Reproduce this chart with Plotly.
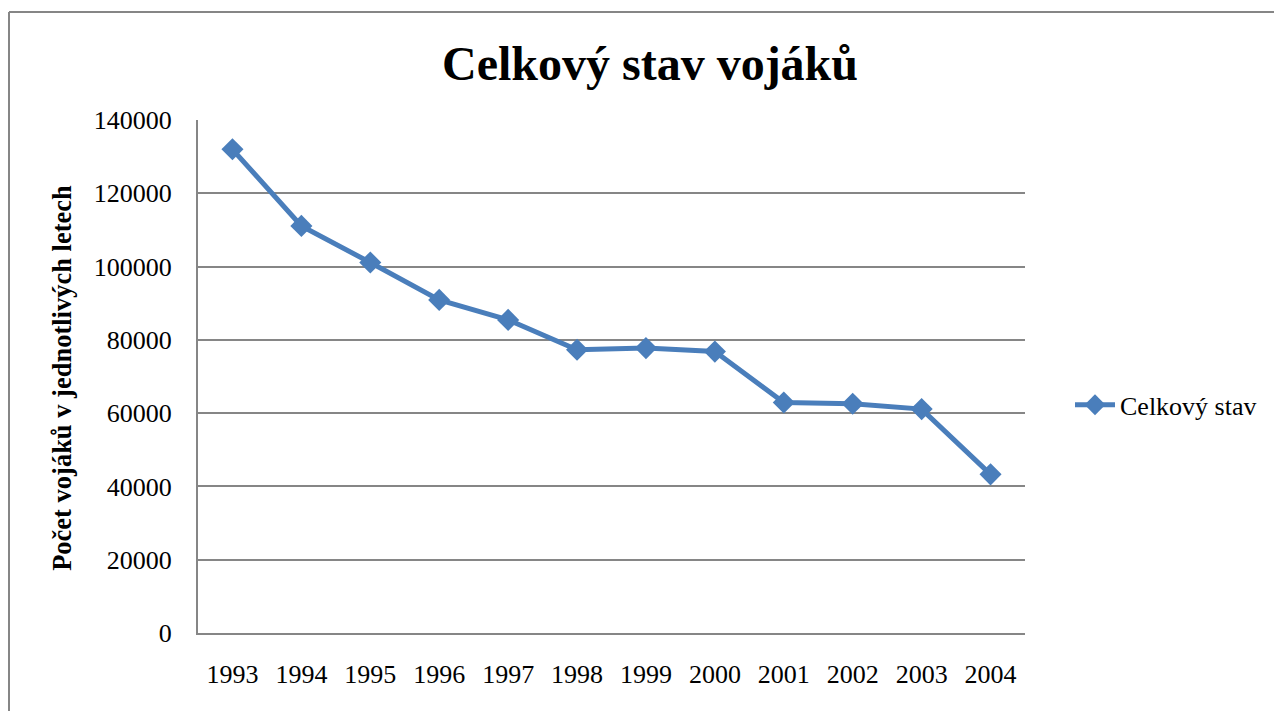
import plotly.graph_objects as go

years = ["1993", "1994", "1995", "1996", "1997", "1998", "1999", "2000", "2001", "2002", "2003", "2004"]
soldiers = [132000, 111100, 101100, 90900, 85450, 77300, 77750, 76800, 62900, 62550, 61100, 43300]
series_name = "Celkový stav"
title_text = "Celkový stav vojáků"
y_title = "Počet vojáků v jednotlivých letech"
y_ticks = [0, 20000, 40000, 60000, 80000, 100000, 120000, 140000]

# page has an 8px body margin; figure is placed at page (8, 8)
OFF = 8
W, H = 1282 - OFF, 711 - OFF
L, R, T, B = 198, 1025, 120, 633.3  # plot area in page pixels


def px_x(p):
    return (p - L) / (R - L)


def px_y(p):
    return (B - p) / (B - T)


fig = go.Figure()
fig.add_trace(go.Scatter(
    x=years, y=soldiers, name=series_name, mode="lines+markers",
    line=dict(color="#4A7EBB", width=5),
    marker=dict(symbol="diamond", size=17, color="#4A7EBB"),
))

fig.update_layout(
    width=W, height=H,
    margin=dict(l=L - OFF, r=W - (R - OFF), t=T - OFF, b=H - (B - OFF), pad=0),
    paper_bgcolor="white", plot_bgcolor="white",
    font=dict(family="Liberation Serif, Times New Roman, serif", size=26, color="black"),
    title=dict(text="<b>" + title_text + "</b>", font=dict(size=48, color="black"),
               x=(650 - OFF) / W, xref="container", xanchor="center",
               y=1 - (63 - OFF) / H, yanchor="middle"),
    showlegend=True,
    legend=dict(x=px_x(1070), y=px_y(405), xanchor="left", yanchor="middle",
                font=dict(size=26), bgcolor="rgba(0,0,0,0)", itemwidth=40),
    xaxis=dict(showgrid=False, showline=True, linecolor="#868686", linewidth=2,
               ticks="", tickfont=dict(size=26), ticklabelstandoff=17,
               range=[-0.5, 11.5]),
    yaxis=dict(range=[0, 140000], tickvals=y_ticks, ticktext=[str(v) for v in y_ticks],
               showgrid=True, gridcolor="#868686", gridwidth=1.6,
               showline=True, linecolor="#868686", linewidth=2,
               ticks="", tickfont=dict(size=26), ticklabelstandoff=19,
               zeroline=False),
)

fig.add_annotation(text="<b>" + y_title + "</b>", textangle=-90,
                   xref="paper", yref="paper", x=px_x(62), y=px_y(378),
                   xanchor="center", yanchor="middle", showarrow=False,
                   font=dict(size=26.5, color="black"))

# outer chart border (top and left visible)
fig.add_shape(type="line", xref="paper", yref="paper",
              x0=px_x(9), x1=px_x(1290), y0=px_y(12), y1=px_y(12),
              line=dict(color="#868686", width=2))
fig.add_shape(type="line", xref="paper", yref="paper",
              x0=px_x(9), x1=px_x(9), y0=px_y(12), y1=px_y(720),
              line=dict(color="#868686", width=2))

fig.write_html("out.html")
